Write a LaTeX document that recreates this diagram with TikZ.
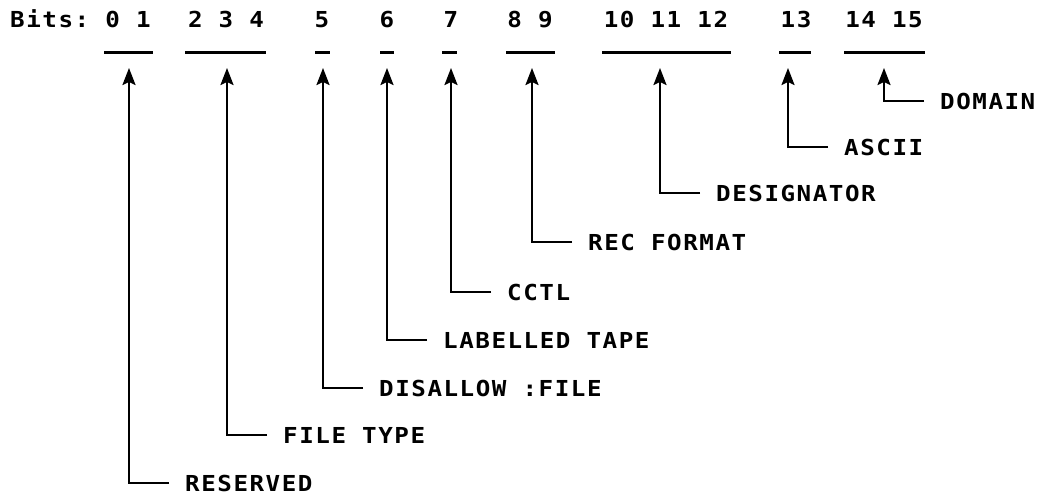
\documentclass[tikz,border=0pt]{standalone}
\usepackage{fontspec}
\newfontfamily\plotfont[FakeStretch=1.1,LetterSpace=7]{DejaVu Sans Mono Bold}
\usetikzlibrary{arrows.meta,positioning}

\begin{document}
\begin{tikzpicture}[
  x=1pt, y=-1pt,
  bits/.style={font=\fontsize{22}{26}\plotfont, inner sep=0pt, anchor=base},
  lbl/.style={font=\fontsize{22}{26}\plotfont, inner sep=0pt},
  bar/.style={line width=3pt},
  ptr/.style={line width=2.2pt, -{Stealth[length=17pt,width=13pt,inset=3pt]}, shorten <=16pt},
  node distance=56pt
]
  \useasboundingbox (0,0) rectangle (1037,495);

  % Header
  \node[bits, anchor=base west] (hdr) at (10,27.5) {Bits:};
  \node[bits] (g01) at (128,27.5) {0 1};
  \node[bits] (g234) at (226,27.5) {2 3 4};
  \node[bits] (g5) at (322,27.5) {5};
  \node[bits] (g6) at (387,27.5) {6};
  \node[bits] (g7) at (451,27.5) {7};
  \node[bits] (g89) at (530,27.5) {8 9};
  \node[bits] (g1012) at (666,27.5) {10 11 12};
  \node[bits] (g13) at (796,27.5) {13};
  \node[bits] (g1415) at (884,27.5) {14 15};

  % Field bars
  \draw[bar] (104,53) -- (153,53);
  \draw[bar] (185,53) -- (266,53);
  \draw[bar] (315,53) -- (330,53);
  \draw[bar] (380,53) -- (394,53);
  \draw[bar] (442,53) -- (457,53);
  \draw[bar] (506,53) -- (555,53);
  \draw[bar] (602,53) -- (731,53);
  \draw[bar] (779,53) -- (811,53);
  \draw[bar] (844,53) -- (925,53);

  % Arrow tips
  \coordinate (t01) at (129,68);
  \coordinate (t234) at (227,68);
  \coordinate (t5) at (323,68);
  \coordinate (t6) at (387,68);
  \coordinate (t7) at (451,68);
  \coordinate (t89) at (532,68);
  \coordinate (t1012) at (660,68);
  \coordinate (t13) at (788,68);
  \coordinate (t1415) at (884,68);

  % Elbows
  \coordinate (e01) at (129,483);
  \coordinate (e234) at (227,435);
  \coordinate (e5) at (323,388);
  \coordinate (e6) at (387,340);
  \coordinate (e7) at (451,292);
  \coordinate (e89) at (532,242);
  \coordinate (e1012) at (660,193);
  \coordinate (e13) at (788,147);
  \coordinate (e1415) at (884,101);

  % Labels
  \node[lbl, right=of e01] (reserved) {RESERVED};
  \node[lbl, right=of e234] (filetype) {FILE TYPE};
  \node[lbl, right=of e5] (disallow) {DISALLOW :FILE};
  \node[lbl, right=of e6] (labelled) {LABELLED TAPE};
  \node[lbl, right=of e7] (cctl) {CCTL};
  \node[lbl, right=of e89] (recformat) {REC FORMAT};
  \node[lbl, right=of e1012] (designator) {DESIGNATOR};
  \node[lbl, right=of e13] (ascii) {ASCII};
  \node[lbl, right=of e1415] (domain) {DOMAIN};

  % Pointers
  \draw[ptr] (reserved.west) -| (t01);
  \draw[ptr] (filetype.west) -| (t234);
  \draw[ptr] (disallow.west) -| (t5);
  \draw[ptr] (labelled.west) -| (t6);
  \draw[ptr] (cctl.west) -| (t7);
  \draw[ptr] (recformat.west) -| (t89);
  \draw[ptr] (designator.west) -| (t1012);
  \draw[ptr] (ascii.west) -| (t13);
  \draw[ptr] (domain.west) -| (t1415);
\end{tikzpicture}
\end{document}
